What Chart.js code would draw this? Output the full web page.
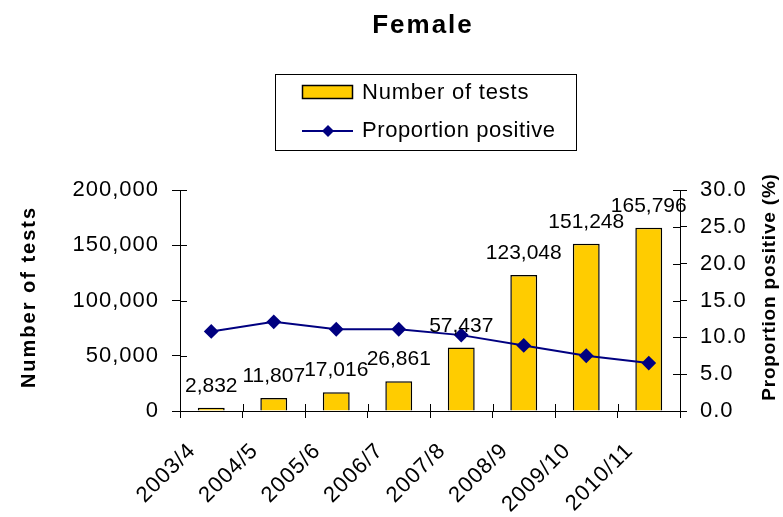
<!DOCTYPE html>
<html>
<head>
<meta charset="utf-8">
<script src="https://cdn.jsdelivr.net/npm/chart.js@4/dist/chart.umd.min.js"></script>
<style>
  html, body { margin: 0; padding: 0; background: #ffffff; }
  #wrap { width: 783px; height: 517px; }
</style>
</head>
<body>
<div id="wrap"><canvas id="c" width="783" height="517"></canvas></div>
<script>
const categories = ['2003/4', '2004/5', '2005/6', '2006/7', '2007/8', '2008/9', '2009/10', '2010/11'];
const numberOfTests = [2832, 11807, 17016, 26861, 57437, 123048, 151248, 165796];
const proportionPositive = [10.8, 12.1, 11.1, 11.1, 10.3, 8.9, 7.5, 6.5];
const leftAxis = { min: 0, max: 200000, step: 50000 };
const rightAxis = { min: 0, max: 30, step: 5 };
const chartTitle = 'Female';
const leftTitle = 'Number of tests';
const rightTitle = 'Proportion positive (%)';

const FONT = '"Liberation Sans", Arial, sans-serif';
const BAR_FILL = '#FFCC00';
const LINE_COL = '#000080';

function drawText(ctx, text, x, y, font, spacing, align, baseline, rot) {
  ctx.save();
  ctx.font = font;
  ctx.letterSpacing = spacing + 'px';
  ctx.fillStyle = '#000';
  ctx.textAlign = align;
  ctx.textBaseline = baseline;
  ctx.translate(x, y);
  if (rot) ctx.rotate(rot);
  ctx.fillText(text, 0, 0);
  ctx.restore();
}

const decorPlugin = {
  id: 'decor',
  beforeDraw(chart) {
    chart.ctx.letterSpacing = '1px';
  },
  afterDatasetsDraw(chart) {
    const ctx = chart.ctx;
    const meta = chart.getDatasetMeta(0);
    meta.data.forEach((bar, i) => {
      const v = chart.data.datasets[0].data[i];
      drawText(ctx, v.toLocaleString('en-US'), bar.x, bar.y - 16, '21px ' + FONT, 0, 'center', 'alphabetic', 0);
    });
  },
  afterDraw(chart) {
    const ctx = chart.ctx;
    const xs = chart.scales.x, ys = chart.scales.y, ys1 = chart.scales.y1;
    ctx.save();
    ctx.strokeStyle = '#000';
    ctx.lineWidth = 1;
    ctx.beginPath();
    ys.ticks.forEach((t, i) => {
      const py = Math.round(ys.getPixelForTick(i)) + 0.5;
      ctx.moveTo(ys.right, py); ctx.lineTo(ys.right + 7, py);
    });
    ys1.ticks.forEach((t, i) => {
      const py = Math.round(ys1.getPixelForTick(i)) + 0.5;
      ctx.moveTo(ys1.left - 7, py); ctx.lineTo(ys1.left, py);
    });
    const n = chart.data.labels.length;
    for (let i = 0; i <= n; i++) {
      const px = Math.round(xs.left + i * xs.width / n) + 0.5;
      ctx.moveTo(px, xs.top - 7); ctx.lineTo(px, xs.top);
    }
    ctx.stroke();
    ctx.restore();

    drawText(ctx, chartTitle, 423, 26, 'bold 26px ' + FONT, 2, 'center', 'middle', 0);
    drawText(ctx, leftTitle, 29, 297, 'bold 20px ' + FONT, 2, 'center', 'middle', -Math.PI / 2);
    drawText(ctx, rightTitle, 770, 287, 'bold 19px ' + FONT, 0.8, 'center', 'middle', -Math.PI / 2);

    const ds = chart.data.datasets;
    ctx.save();
    ctx.strokeStyle = '#000';
    ctx.lineWidth = 1;
    ctx.strokeRect(275.5, 74.5, 301, 76);
    ctx.fillStyle = ds[0].backgroundColor;
    ctx.fillRect(302.5, 85.5, 50, 13);
    ctx.lineWidth = 1.5;
    ctx.strokeRect(302.5, 85.5, 50, 13);
    ctx.strokeStyle = ds[1].borderColor;
    ctx.lineWidth = 2;
    ctx.beginPath();
    ctx.moveTo(302, 131); ctx.lineTo(353, 131);
    ctx.stroke();
    ctx.fillStyle = ds[1].borderColor;
    ctx.beginPath();
    ctx.moveTo(328, 125); ctx.lineTo(334, 131); ctx.lineTo(328, 137); ctx.lineTo(322, 131);
    ctx.closePath();
    ctx.fill();
    ctx.restore();
    drawText(ctx, ds[0].label, 362, 93, '22px ' + FONT, 0.8, 'left', 'middle', 0);
    drawText(ctx, ds[1].label, 362, 131, '22px ' + FONT, 0.6, 'left', 'middle', 0);
  }
};

new Chart(document.getElementById('c'), {
  data: {
    labels: categories,
    datasets: [
      {
        type: 'bar',
        label: 'Number of tests',
        data: numberOfTests,
        yAxisID: 'y',
        backgroundColor: BAR_FILL,
        borderColor: '#000',
        borderWidth: 1.5,
        borderSkipped: 'bottom',
        categoryPercentage: 1.0,
        barPercentage: 0.43,
        order: 2
      },
      {
        type: 'line',
        label: 'Proportion positive',
        data: proportionPositive,
        yAxisID: 'y1',
        borderColor: LINE_COL,
        backgroundColor: LINE_COL,
        borderWidth: 2,
        pointStyle: 'rectRot',
        pointRadius: 6,
        pointBackgroundColor: LINE_COL,
        pointBorderColor: LINE_COL,
        tension: 0,
        order: 1
      }
    ]
  },
  options: {
    responsive: false,
    animation: false,
    devicePixelRatio: 1,
    layout: { padding: { top: 190, left: 0, right: 0, bottom: 0 } },
    plugins: {
      legend: { display: false },
      title: { display: false },
      tooltip: { enabled: false }
    },
    scales: {
      x: {
        type: 'category',
        offset: true,
        grid: { offset: true, drawOnChartArea: false, tickLength: 7, color: '#000', lineWidth: 1 },
        border: { display: true, color: '#000', width: 1 },
        ticks: {
          minRotation: 45, maxRotation: 45, autoSkip: false,
          labelOffset: -19, padding: 20,
          color: '#000', font: { family: FONT, size: 22 }
        },
        afterFit(s) { s.height = 106; }
      },
      y: {
        position: 'left',
        min: leftAxis.min, max: leftAxis.max,
        grid: { drawOnChartArea: false, tickLength: 8, color: '#000', lineWidth: 1 },
        border: { display: true, color: '#000', width: 1 },
        ticks: {
          stepSize: leftAxis.step, padding: 13, color: '#000',
          font: { family: FONT, size: 22 },
          callback: v => Number(v).toLocaleString('en-US')
        },
        afterFit(s) { s.width = 180; }
      },
      y1: {
        position: 'right',
        min: rightAxis.min, max: rightAxis.max,
        grid: { drawOnChartArea: false, tickLength: 7, color: '#000', lineWidth: 1 },
        border: { display: true, color: '#000', width: 1 },
        ticks: {
          stepSize: rightAxis.step, padding: 13, color: '#000',
          font: { family: FONT, size: 22 },
          callback: v => Number(v).toFixed(1)
        },
        afterFit(s) { s.width = 103; }
      }
    }
  },
  plugins: [decorPlugin]
});
</script>
</body>
</html>
